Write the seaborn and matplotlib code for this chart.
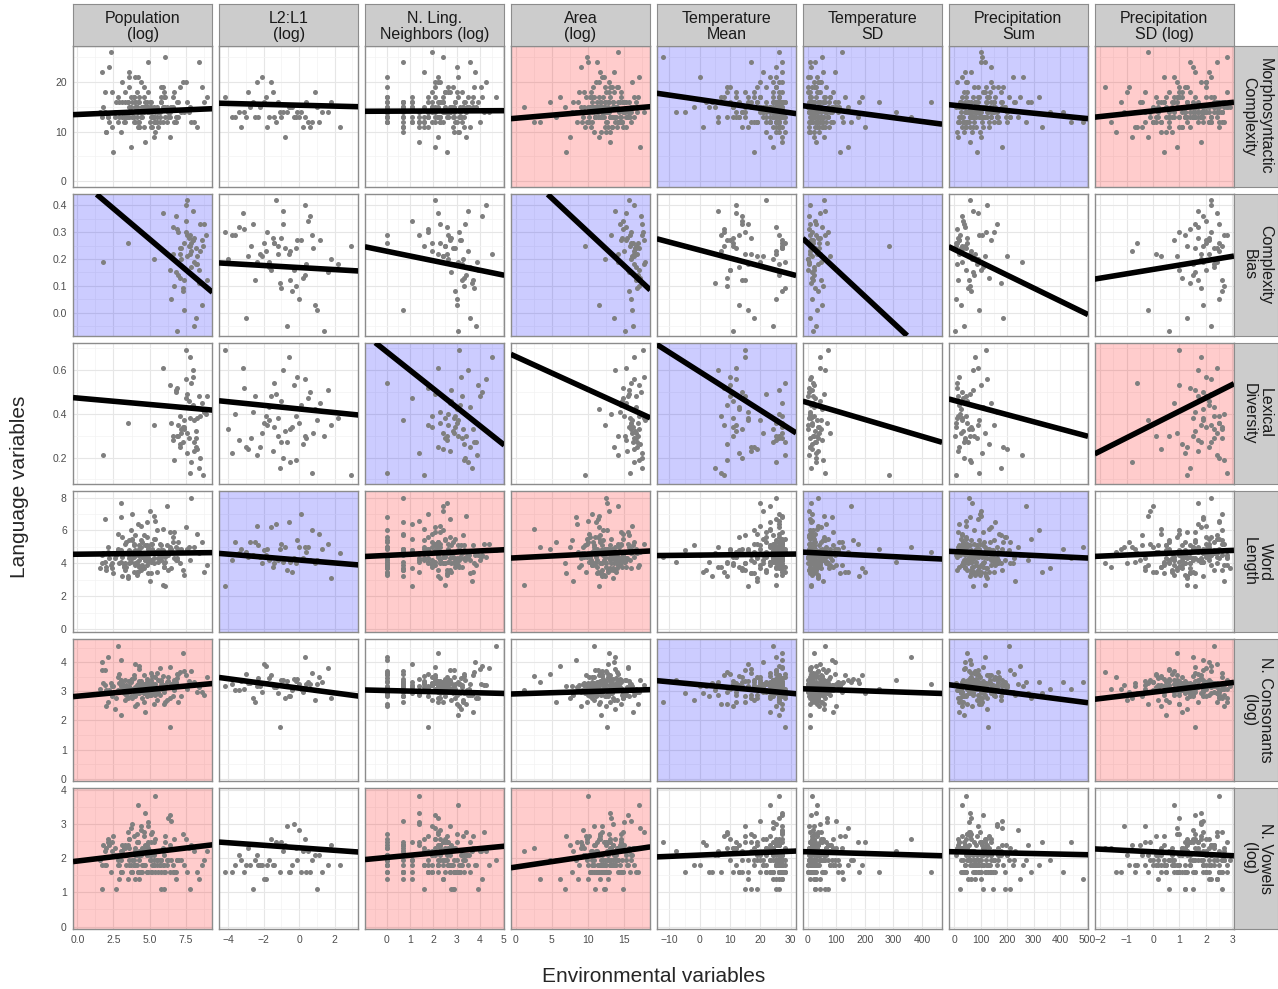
import numpy as np
import pandas as pd
import matplotlib
matplotlib.use("Agg")
import matplotlib.pyplot as plt
from matplotlib.patches import Rectangle
from matplotlib.ticker import AutoMinorLocator
import seaborn as sns

na = np.nan

# ---- languages with the large samples (morphosyntax, word length, consonants, vowels)
pop_d = [4.2, 5.1, 3.3, 6.0, 2.1, 4.8, 5.6, 3.9, 7.2, 4.4,
         1.7, 5.3, 6.4, 3.1, 4.6, 2.8, 5.9, 4.0, 6.8, 3.6,
         5.0, 4.3, 2.4, 6.2, 3.8, 7.6, 4.9, 5.5, 3.4, 4.1,
         6.6, 2.0, 5.2, 4.7, 3.0, 5.8, 8.1, 4.5, 3.7, 6.1,
         2.6, 5.4, 4.0, 7.0, 3.2, 4.8, 6.3, 1.9, 5.7, 4.2,
         3.5, 6.9, 4.6, 2.3, 5.1, 7.9, 3.9, 4.4, 6.5, 3.0,
         5.6, 8.6, 4.1, 2.7, 5.9, 3.6, 4.9, 7.3, 4.3, 5.3,
         1.8, 6.0, 3.8, 4.7, 5.0, 2.9, 6.7, 4.5, 3.3, 7.7,
         5.5, 4.0, 2.2, 6.2, 3.7, 5.2, 9.0, 4.6, 3.1, 5.8,
         6.4, 2.5, 4.8, 3.4, 7.1, 5.4, 4.2, 1.6, 6.1, 3.9,
         5.0, 8.3, 4.4, 2.8, 5.7, 3.5, 6.8, 4.1, 7.5, 3.0,
         5.3, 4.9, 2.0, 6.5, 3.8, 4.3, 8.8, 5.1, 3.6, 6.0,
         4.7, 3.2, 5.8, 2.2, 6.3, 4.0, 5.1, 3.6, 7.4, 4.5,
         2.9, 5.5, 4.2, 6.7, 3.4, 4.9, 1.7, 5.9, 4.3, 3.8,
         6.1, 4.6, 2.6, 5.3, 7.8, 3.9, 4.8, 5.6, 3.1, 6.4,
         4.1, 5.0, 2.4, 4.4, 6.9, 3.5, 5.2, 4.7, 8.4, 3.0,
         5.7, 4.3, 2.1, 6.0, 3.7, 4.9, 5.4, 3.3, 7.0, 4.6,
         2.8, 5.1, 4.0, 6.6, 3.6, 5.8, 4.2, 1.9, 5.3, 4.8]
l2_d = [-3.1, na, na, -1.5, na, na, 0.2, na, na, -2.4,
        na, na, -0.8, na, na, 1.1, na, na, -3.8, na,
        na, -1.9, na, na, -0.3, na, na, 0.7, na, na,
        -2.8, na, na, -1.2, na, na, 0.5, na, na, -4.2,
        na, na, -2.1, na, na, -0.6, na, na, 1.6, na,
        na, -1.7, na, na, -3.4, na, na, 0.0, na, na,
        -0.9, na, na, -2.6, na, na, 1.3, na, na, -1.4,
        na, na, -0.1, na, na, -3.0, na, na, 0.9, na,
        na, -2.0, na, na, -0.5, na, na, 2.3, na, na,
        -1.1, na, na, -3.6, na, na, 0.4, na, na, -2.3,
        na, na, -0.7, na, na, 1.8, na, na, -1.6, na,
        na, -2.9, na, na, 0.1, na, na, -1.0, na, na,
        -2.2, na, na, na, na, na, 0.6, na, na, na,
        na, na, -1.3, na, na, na, na, na, -3.3, na,
        na, na, na, na, 1.0, na, na, na, na, na,
        -0.4, na, na, na, na, na, -1.8, na, na, na,
        na, na, 0.3, na, na, na, na, na, -2.5, na,
        na, na, na, na, -0.2, na, na, na, na, na]
neigh_d = [12, 1, 8, 25, 2, 15, 6, 40, 1, 10,
           18, 3, 9, 2, 30, 7, 14, 1, 22, 5,
           11, 60, 2, 16, 4, 9, 35, 1, 13, 20,
           7, 2, 28, 10, 1, 17, 5, 45, 8, 3,
           24, 12, 1, 6, 19, 2, 9, 14, 80, 4,
           11, 1, 26, 7, 15, 2, 33, 10, 3, 21,
           8, 1, 13, 50, 5, 18, 2, 9, 27, 6,
           16, 1, 12, 4, 38, 2, 10, 23, 7, 1,
           14, 3, 20, 11, 2, 65, 8, 17, 1, 29,
           6, 13, 2, 9, 42, 4, 19, 1, 11, 24,
           7, 2, 15, 110, 5, 10, 1, 31, 8, 18,
           3, 12, 22, 2, 6, 55, 1, 14, 9, 16,
           9, 1, 21, 4, 13, 2, 36, 8, 1, 17,
           11, 26, 3, 15, 1, 7, 44, 12, 2, 19,
           6, 1, 14, 30, 5, 10, 2, 23, 70, 8,
           16, 3, 12, 1, 27, 9, 5, 40, 2, 13,
           20, 7, 1, 34, 11, 4, 18, 2, 9, 58,
           14, 1, 25, 6, 10, 3, 21, 15, 1, 8]
area_d = [12.1, 10.5, 14.2, 8.8, 13.0, 11.4, 15.3, 9.7, 12.8, 16.1,
          11.0, 13.6, 7.5, 12.4, 14.8, 10.2, 13.3, 9.1, 15.8, 11.7,
          12.9, 6.2, 14.0, 10.8, 13.5, 16.6, 11.2, 12.6, 9.4, 14.5,
          10.0, 13.1, 11.9, 15.0, 8.3, 12.3, 14.3, 10.6, 17.2, 11.5,
          13.8, 9.9, 12.0, 4.8, 14.7, 11.1, 13.2, 10.4, 15.5, 12.7,
          8.6, 13.9, 11.6, 14.1, 10.1, 12.5, 16.3, 9.3, 13.4, 11.8,
          15.1, 10.7, 12.2, 14.9, 2.5, 13.7, 11.3, 12.9, 9.6, 14.4,
          10.9, 16.9, 12.1, 13.0, 8.0, 11.9, 14.6, 10.3, 13.6, 15.6,
          11.4, 12.8, 9.0, 14.2, 12.4, 17.8, 10.5, 13.3, 11.0, 15.2,
          12.6, 7.0, 13.9, 11.7, 14.0, 10.0, 12.3, 16.0, 9.8, 13.1,
          11.2, 14.8, 12.0, 10.8, 15.4, 13.5, 3.4, 12.7, 11.5, 14.3,
          13.2, 9.5, 12.5, 15.9, 10.6, 13.8, 11.8, 14.5, 12.2, 6.8,
          13.4, 11.0, 14.6, 9.2, 12.7, 15.7, 10.4, 13.1, 12.0, 16.4,
          11.6, 14.0, 8.5, 12.9, 15.2, 10.9, 13.6, 1.2, 12.4, 14.9,
          10.2, 13.0, 16.8, 11.5, 12.2, 9.8, 14.4, 12.8, 11.1, 15.5,
          13.9, 10.6, 12.5, 7.8, 14.2, 11.9, 13.3, 16.2, 10.0, 12.6,
          14.7, 11.3, 13.7, 9.5, 12.1, 15.0, 10.8, 13.5, 5.6, 14.1,
          12.3, 11.7, 15.9, 10.3, 13.2, 12.9, 17.0, 11.4, 14.5, 12.0]
tmean_d = [24, 26, 18, 27, 12, 22, 25, 8, 27, 20,
           15, 26, 23, 4, 27, 19, 25, 11, 24, 27,
           21, 26, 14, -2, 25, 27, 17, 23, 26, 9,
           27, 22, 13, 25, 27, 19, 6, 26, 24, 16,
           27, 21, 25, 10, 28, 23, 26, 18, 27, 1,
           24, 27, 15, 26, 22, 25, 12, 27, 20, 26,
           -8, 25, 27, 17, 23, 26, 14, 27, 24, 21,
           26, 7, 25, 27, 19, 28, 22, 11, 26, 24,
           27, 16, 25, 23, 3, 27, 20, 26, 13, 25,
           28, 18, 24, 27, 9, 26, 22, 25, -12, 27,
           21, 26, 15, 24, 27, 19, 25, 5, 26, 23,
           27, 12, 25, 20, 26, 17, 28, 24, 0, 26,
           25, 27, 20, 26, 14, 24, 27, 10, 25, 22,
           27, 18, 26, 24, 6, 27, 21, 25, 16, 28,
           23, 26, 12, 27, 25, 19, 26, -5, 24, 27,
           22, 26, 15, 27, 25, 9, 26, 23, 27, 20,
           26, 13, 25, 27, 18, 24, 28, 2, 26, 22,
           27, 17, 25, 26, 11, 27, 23, 25, 19, 26]
tsd_d = [15, 40, 8, 90, 25, 5, 60, 130, 12, 35,
         70, 3, 22, 180, 48, 10, 30, 100, 18, 55,
         6, 28, 75, 14, 42, 250, 9, 20, 65, 33,
         110, 4, 50, 16, 85, 26, 7, 38, 140, 11,
         58, 21, 2, 95, 30, 13, 68, 44, 8, 200,
         24, 52, 17, 120, 6, 36, 80, 19, 46, 10,
         310, 27, 14, 62, 34, 5, 105, 23, 40, 15,
         72, 9, 160, 29, 54, 12, 88, 3, 37, 66,
         20, 45, 11, 150, 26, 7, 78, 32, 18, 57,
         8, 115, 41, 22, 64, 14, 430, 30, 50, 10,
         86, 25, 4, 60, 19, 35, 125, 13, 48, 28,
         70, 6, 39, 98, 16, 53, 23, 175, 9, 42,
         18, 45, 7, 82, 28, 4, 55, 14, 36, 120,
         10, 26, 66, 3, 40, 22, 95, 12, 50, 8,
         33, 190, 16, 58, 25, 6, 74, 20, 44, 11,
         140, 30, 9, 62, 17, 38, 5, 90, 27, 13,
         52, 21, 360, 35, 8, 68, 24, 15, 46, 2,
         80, 29, 12, 56, 19, 106, 34, 7, 42, 23]
psum_d = [80, 150, 35, 110, 20, 190, 60, 130, 95, 45,
          210, 70, 15, 120, 55, 170, 90, 30, 140, 65,
          100, 250, 40, 85, 160, 25, 115, 75, 200, 50,
          135, 10, 95, 280, 60, 145, 35, 105, 180, 70,
          125, 45, 220, 88, 18, 155, 65, 112, 40, 330,
          78, 165, 28, 102, 140, 55, 90, 240, 120, 38,
          68, 185, 98, 22, 130, 75, 410, 50, 108, 160,
          42, 92, 150, 60, 230, 82, 14, 118, 175, 48,
          100, 62, 138, 270, 34, 96, 155, 72, 195, 52,
          128, 86, 8, 112, 165, 44, 80, 360, 104, 58,
          145, 30, 90, 205, 70, 125, 485, 54, 140, 84,
          26, 115, 66, 180, 98, 38, 150, 76, 260, 110,
          88, 140, 30, 105, 62, 175, 45, 120, 78, 210,
          52, 96, 18, 135, 70, 160, 40, 115, 84, 290,
          60, 125, 24, 100, 190, 48, 82, 145, 12, 110,
          74, 165, 36, 92, 225, 58, 130, 20, 102, 68,
          150, 42, 118, 86, 320, 54, 98, 180, 32, 76,
          124, 64, 200, 46, 108, 140, 28, 90, 440, 56]
psd_d = [1.2, 0.4, 2.1, -0.3, 1.7, 0.9, 2.5, 0.1, 1.5, 2.0,
         0.6, 1.9, -0.8, 1.3, 2.4, 0.3, 1.0, 2.7, 0.8, 1.6,
         -0.1, 2.2, 1.1, 0.5, 1.8, -1.2, 1.4, 2.6, 0.2, 1.0,
         2.3, 0.7, 1.5, -0.5, 1.9, 1.2, 0.0, 2.8, 0.9, 1.6,
         1.3, 2.1, 0.4, 1.7, -1.6, 2.5, 1.0, 0.6, 2.0, 1.4,
         0.2, 1.8, 2.4, -0.2, 1.1, 2.2, 0.8, 1.5, 2.9, 0.5,
         1.9, -0.9, 1.2, 2.6, 0.3, 1.6, 2.0, 0.9, -0.4, 1.4,
         2.3, 1.0, 0.6, 1.8, 2.7, 0.1, 1.3, 2.1, -1.0, 1.7,
         0.7, 2.4, 1.5, 0.0, 1.9, 2.6, 1.1, -0.6, 2.2, 0.8,
         1.6, 0.4, 2.0, 1.2, -1.8, 2.5, 0.9, 1.4, 2.8, 0.2,
         1.7, 1.0, -0.3, 2.3, 0.5, 1.3, 2.1, 0.7, 1.8, -0.7,
         2.4, 1.1, 0.3, 1.9, 2.6, 0.6, 1.5, -0.1, 2.2, 1.2,
         1.4, 2.2, 0.5, 1.9, 2.6, -0.4, 1.1, 2.0, 0.8, 1.6,
         2.4, 0.2, 1.7, 2.8, 1.0, -1.1, 2.1, 1.3, 0.6, 2.5,
         1.8, 0.9, 2.3, -0.2, 1.5, 2.7, 0.4, 1.2, 2.0, 1.6,
         0.0, 2.2, 1.4, 2.6, 0.7, 1.9, -0.7, 1.1, 2.4, 1.7,
         2.1, 0.3, 1.5, 2.8, 1.0, 1.8, -1.4, 2.3, 0.6, 1.3,
         2.5, 1.6, 0.1, 2.0, 1.2, 2.7, 0.8, 1.9, -0.3, 1.4]
morph_d = [14, 16, 12, 18, 13, 15, 11, 17, 14, 20,
           13, 15, 9, 16, 14, 12, 19, 15, 13, 22,
           14, 17, 11, 15, 13, 16, 24, 12, 14, 18,
           15, 10, 13, 16, 14, 19, 12, 15, 7, 17,
           13, 14, 21, 16, 12, 15, 13, 18, 14, 11,
           16, 13, 15, 26, 14, 12, 17, 13, 15, 10,
           14, 19, 13, 16, 12, 15, 14, 20, 11, 13,
           15, 17, 14, 8, 16, 13, 12, 15, 18, 14,
           13, 16, 23, 12, 15, 14, 17, 11, 13, 16,
           14, 6, 15, 13, 19, 12, 16, 14, 25, 13,
           15, 11, 14, 17, 13, 16, 12, 15, 20, 14,
           13, 18, 10, 15, 14, 12, 16, 13, 21, 15,
           15, 13, 17, 12, 14, 16, 11, 19, 14, 13,
           16, 15, 12, 18, 13, 14, 22, 15, 11, 16,
           13, 17, 14, 9, 15, 12, 16, 14, 20, 13,
           15, 12, 18, 14, 16, 13, 11, 15, 24, 14,
           12, 16, 13, 15, 17, 14, 10, 16, 13, 19,
           14, 15, 12, 17, 13, 16, 21, 14, 12, 15]
wordlen_d = [4.5, 4.1, 5.2, 3.8, 4.7, 5.6, 4.3, 3.5, 4.9, 6.3,
             4.0, 4.6, 5.0, 3.2, 4.4, 5.8, 4.8, 3.9, 4.2, 5.4,
             7.2, 4.5, 3.7, 5.1, 4.3, 4.9, 3.4, 6.0, 4.6, 4.1,
             5.3, 3.6, 4.8, 4.2, 6.8, 4.4, 5.0, 3.9, 4.7, 2.6,
             4.3, 5.5, 4.0, 4.9, 3.8, 6.5, 4.5, 4.1, 5.2, 3.5,
             4.7, 4.2, 5.7, 3.9, 4.6, 8.0, 4.4, 5.0, 3.7, 4.8,
             4.1, 5.3, 3.3, 4.5, 6.1, 4.3, 4.9, 3.6, 5.1, 4.0,
             4.6, 3.8, 5.4, 4.2, 2.9, 4.7, 5.9, 4.4, 4.0, 5.0,
             3.5, 4.8, 4.3, 7.5, 4.1, 5.2, 3.9, 4.6, 5.6, 4.2,
             4.9, 3.4, 4.5, 5.3, 4.0, 6.6, 4.7, 3.7, 4.4, 5.1,
             4.2, 5.8, 3.6, 4.8, 4.3, 3.1, 5.0, 4.6, 6.2, 4.1,
             5.5, 4.4, 3.8, 4.9, 7.0, 4.2, 3.5, 5.2, 4.5, 4.0,
             4.4, 3.9, 5.1, 4.6, 3.6, 5.7, 4.2, 4.8, 3.3, 5.3,
             4.0, 4.7, 6.4, 4.3, 3.8, 5.0, 4.5, 2.7, 4.9, 5.5,
             4.1, 3.7, 4.6, 6.9, 4.2, 5.2, 3.9, 4.8, 4.4, 5.9,
             3.5, 4.7, 4.0, 5.4, 4.3, 3.2, 4.9, 5.1, 4.6, 7.7,
             4.2, 3.8, 5.0, 4.5, 6.0, 4.1, 4.7, 3.6, 5.3, 4.4,
             4.9, 3.4, 4.6, 5.6, 4.0, 4.8, 3.9, 6.7, 4.3, 5.1]
consonants_d = [22, 18, 30, 25, 14, 28, 20, 35, 17, 24,
                42, 21, 16, 27, 19, 33, 23, 12, 26, 29,
                20, 48, 24, 15, 31, 22, 18, 38, 25, 13,
                27, 21, 34, 19, 60, 23, 28, 16, 30, 24,
                11, 26, 20, 36, 22, 17, 29, 25, 45, 19,
                23, 32, 14, 27, 21, 40, 18, 26, 24, 9,
                30, 20, 25, 16, 34, 22, 28, 75, 19, 23,
                27, 13, 31, 24, 18, 37, 21, 26, 15, 29,
                22, 52, 20, 28, 17, 25, 33, 19, 23, 30,
                6, 24, 27, 21, 39, 18, 26, 22, 14, 32,
                25, 20, 29, 95, 23, 16, 28, 21, 35, 24,
                19, 27, 12, 26, 22, 44, 18, 30, 24, 20,
                24, 19, 28, 21, 33, 17, 26, 22, 40, 20,
                27, 15, 23, 30, 18, 25, 55, 21, 29, 16,
                24, 35, 20, 13, 26, 22, 31, 19, 25, 47,
                21, 28, 17, 24, 36, 20, 27, 10, 23, 30,
                18, 25, 65, 22, 28, 19, 33, 24, 14, 26,
                21, 38, 23, 17, 29, 25, 20, 42, 22, 27]
vowels_d = [5, 7, 10, 6, 12, 5, 9, 14, 7, 8,
            3, 6, 11, 5, 16, 8, 6, 10, 5, 13,
            7, 4, 9, 6, 20, 5, 12, 7, 8, 15,
            6, 10, 5, 11, 7, 3, 9, 6, 18, 5,
            8, 13, 6, 7, 10, 5, 24, 9, 6, 12,
            4, 7, 14, 5, 8, 11, 6, 17, 7, 5,
            9, 6, 12, 3, 10, 7, 5, 15, 8, 6,
            11, 5, 7, 28, 9, 6, 13, 5, 8, 10,
            6, 4, 12, 7, 5, 16, 9, 6, 11, 7,
            5, 14, 8, 6, 10, 45, 5, 7, 12, 6,
            9, 5, 19, 7, 6, 11, 4, 8, 13, 5,
            7, 10, 6, 22, 5, 9, 7, 12, 6, 3,
            6, 8, 5, 11, 7, 9, 5, 13, 6, 10,
            4, 7, 12, 5, 8, 19, 6, 9, 7, 5,
            14, 6, 10, 8, 3, 7, 11, 5, 9, 26,
            6, 8, 12, 5, 7, 16, 6, 10, 4, 9,
            7, 5, 13, 8, 6, 21, 5, 11, 7, 9,
            6, 15, 8, 5, 10, 7, 35, 6, 12, 8]

# ---- languages with complexity bias / lexical diversity measures
pop_s = [7.8, 8.2, 6.9, 7.4, 8.6, 7.1, 8.0, 6.5, 7.6, 8.4,
         7.2, 8.8, 6.7, 7.9, 5.3, 8.1, 7.5, 8.5, 7.0, 7.7,
         8.3, 6.8, 7.3, 8.7, 7.9, 6.6, 8.0, 7.4, 1.8, 8.2,
         7.6, 7.1, 8.9, 7.8, 6.9, 3.5, 8.4, 7.5, 7.2, 8.1,
         6.4, 7.7, 8.6, 7.0, 7.9, 8.3, 5.9, 7.3, 8.0, 7.6,
         8.5, 6.8, 7.4, 8.2, 7.1, 7.8, 9.0, 6.6, 7.5, 8.1]
l2_s = [-1.2, 0.4, -3.1, -0.5, 1.2, -2.2, -0.9, 0.0, -3.8, -1.6,
        0.8, -2.6, -0.2, -1.4, 1.8, -0.7, -4.2, -1.9, 0.3, -1.0,
        -2.9, 0.6, -0.4, 2.9, -1.7, -3.4, -0.1, 1.0, -2.4, -0.8,
        -1.3, 0.2, -3.6, -0.6, 1.4, -2.0, -1.1, 0.5, -4.0, -1.5,
        -0.3, -2.7, 0.9, -1.8, -0.5, 2.2, -3.2, -1.0, 0.1, -2.1,
        -0.9, 1.6, -1.4, -3.0, -0.2, 0.7, -2.5, -1.2, 0.3, -1.7]
neigh_s = [12, 25, 6, 40, 15, 9, 33, 20, 4, 55,
           18, 10, 28, 1, 14, 45, 22, 7, 30, 16,
           11, 60, 19, 5, 36, 13, 24, 2, 48, 17,
           8, 27, 14, 90, 21, 10, 38, 3, 26, 15,
           50, 12, 20, 6, 32, 18, 9, 42, 23, 11,
           29, 16, 7, 35, 19, 1, 25, 13, 70, 21]
area_s = [15.8, 16.4, 14.9, 17.1, 15.2, 16.8, 13.8, 16.0, 17.4, 15.5,
          16.6, 14.4, 17.0, 15.9, 12.3, 16.2, 17.6, 15.0, 16.9, 14.7,
          16.3, 17.3, 15.6, 9.6, 16.7, 15.3, 17.8, 16.1, 14.2, 16.5,
          15.7, 17.2, 13.2, 16.4, 15.1, 16.9, 17.5, 14.8, 16.0, 15.4,
          17.0, 16.6, 11.5, 15.9, 16.3, 17.7, 15.2, 16.8, 14.5, 16.1,
          17.4, 15.6, 16.2, 13.6, 17.1, 15.8, 16.7, 14.1, 16.4, 17.9]
tmean_s = [11, 26, 8, 14, 27, 17, 6, 25, 13, 10,
           27, 16, 9, 28, 12, 24, 15, 7, 26, 11,
           19, 14, 27, 8, 13, 25, 10, 16, 28, 12,
           22, 9, 26, 15, 11, 27, 5, 14, 24, 17,
           10, 27, 13, 8, 25, 16, 12, 28, 9, 21,
           14, 26, 11, 18, 27, 7, 15, 25, 12, 20]
tsd_s = [12, 35, 5, 48, 20, 8, 62, 15, 28, 3,
         40, 10, 55, 18, 2, 30, 72, 9, 24, 45,
         14, 6, 38, 285, 22, 50, 11, 33, 4, 26,
         58, 16, 7, 42, 19, 68, 13, 27, 1, 36,
         21, 9, 52, 17, 31, 5, 44, 25, 12, 78,
         29, 14, 39, 8, 23, 60, 18, 34, 10, 47]
psum_s = [30, 85, 12, 55, 140, 20, 70, 5, 105, 45,
          25, 160, 60, 10, 90, 38, 120, 15, 75, 50,
          200, 28, 65, 8, 110, 42, 18, 95, 256, 35,
          58, 130, 22, 80, 3, 48, 175, 32, 68, 14,
          100, 40, 26, 150, 62, 11, 88, 52, 20, 115,
          36, 72, 6, 185, 44, 92, 16, 60, 125, 30]
psd_s = [1.9, 2.3, 1.4, 2.6, 0.8, 2.1, 1.7, 2.5, 1.2, 2.0,
         2.4, 1.6, 2.7, -0.6, 1.8, 2.2, 1.0, 2.5, 1.5, 2.1,
         0.3, 1.9, 2.6, 1.3, 2.3, 1.7, 2.0, -0.2, 2.4, 1.6,
         2.2, 1.1, 2.7, 1.8, 0.6, 2.5, 1.4, 2.0, 2.3, 1.7,
         1.0, 2.6, 1.9, 2.2, -0.8, 1.5, 2.4, 1.8, 2.1, 0.9,
         2.5, 1.6, 2.0, 1.3, 2.3, 2.8, 1.7, 0.1, 2.2, 1.9]
bias_s = [0.25, 0.18, 0.31, 0.12, 0.27, 0.22, 0.38, 0.05, 0.29, 0.16,
          0.24, 0.33, 0.10, 0.26, 0.20, -0.05, 0.30, 0.23, 0.14, 0.28,
          0.21, 0.36, 0.08, 0.25, 0.17, 0.32, 0.27, 0.01, 0.19, 0.24,
          0.42, 0.13, 0.29, 0.22, -0.07, 0.26, 0.11, 0.34, 0.20, 0.28,
          0.16, 0.25, 0.03, 0.30, 0.23, 0.18, 0.37, 0.09, 0.27, 0.21,
          0.33, 0.15, 0.26, -0.02, 0.24, 0.29, 0.12, 0.22, 0.40, 0.19]
lexdiv_s = [0.38, 0.29, 0.52, 0.33, 0.45, 0.25, 0.60, 0.36, 0.22, 0.48,
            0.31, 0.41, 0.19, 0.54, 0.35, 0.27, 0.69, 0.39, 0.30, 0.46,
            0.24, 0.50, 0.34, 0.12, 0.43, 0.28, 0.57, 0.37, 0.21, 0.32,
            0.49, 0.26, 0.40, 0.66, 0.30, 0.36, 0.15, 0.47, 0.33, 0.23,
            0.53, 0.29, 0.42, 0.35, 0.18, 0.38, 0.61, 0.27, 0.44, 0.31,
            0.20, 0.51, 0.34, 0.25, 0.39, 0.13, 0.48, 0.30, 0.56, 0.37]

# ---- model fits: slope / intercept per panel (rows = language variables)
slopes = [
    [0.124, -0.089, 0.02, 0.125, -0.089, -0.0076, -0.00532, 0.569],
    [-0.0456, -0.0038, -0.0178, -0.0252, -0.00298, -0.000995, -0.000482, 0.0163],
    [-0.0059, -0.00826, -0.0848, -0.0151, -0.0088, -0.000386, -0.000325, 0.0609],
    [0.0104, -0.089, 0.0687, 0.0223, 0.002, -0.00086, -0.00078, 0.070],
    [0.0466, -0.0813, -0.02, 0.0078, -0.0098, -0.00033, -0.00118, 0.110],
    [0.0508, -0.0369, 0.0653, 0.0317, 0.0037, -0.000246, -0.00017, -0.038],
]
intercepts = [
    [13.44, 15.3, 14.1, 12.68, 16.44, 15.07, 15.29, 14.16],
    [0.502, 0.168, 0.229, 0.553, 0.233, 0.260, 0.236, 0.161],
    [0.472, 0.422, 0.684, 0.662, 0.592, 0.451, 0.461, 0.351],
    [4.553, 4.2, 4.48, 4.335, 4.50, 4.665, 4.714, 4.575],
    [2.834, 3.11, 3.03, 2.915, 3.23, 3.084, 3.205, 2.973],
    [1.915, 2.303, 2.02, 1.74, 2.09, 2.186, 2.186, 2.186],
]
# significant effect: 1 positive, -1 negative, 0 none
signif = [
    [0, 0, 0, 1, -1, -1, -1, 1],
    [-1, 0, 0, -1, 0, -1, 0, 0],
    [0, 0, -1, 0, -1, 0, 0, 1],
    [0, -1, 1, 1, 0, -1, -1, 0],
    [1, 0, 0, 0, -1, 0, -1, 1],
    [1, 0, 1, 1, 0, 0, 0, 0],
]

col_labels = ["Population\n(log)", "L2:L1\n(log)", "N. Ling.\nNeighbors (log)", "Area\n(log)",
              "Temperature\nMean", "Temperature\nSD", "Precipitation\nSum", "Precipitation\nSD (log)"]
row_labels = ["Morphosyntactic\nComplexity", "Complexity\nBias", "Lexical\nDiversity",
              "Word\nLength", "N. Consonants\n(log)", "N. Vowels\n(log)"]

x_ticks = [[0, 2.5, 5, 7.5], [-4, -2, 0, 2], [0, 1, 2, 3, 4, 5], [0, 5, 10, 15],
           [-10, 0, 10, 20, 30], [0, 100, 200, 300, 400], [0, 100, 200, 300, 400, 500],
           [-2, -1, 0, 1, 2, 3]]
x_ticklabels = [["0.0", "2.5", "5.0", "7.5"], ["\u22124", "\u22122", "0", "2"],
                ["0", "1", "2", "3", "4", "5"], ["0", "5", "10", "15"],
                ["\u221210", "0", "10", "20", "30"], ["0", "100", "200", "300", "400"],
                ["0", "100", "200", "300", "400", "500"],
                ["\u22122", "\u22121", "0", "1", "2", "3"]]
x_lims = [(-0.3, 9.35), (-4.53, 3.34), (-0.93, 5.04), (-0.65, 18.6),
          (-14.2, 31.8), (-17, 470), (-21, 505), (-2.21, 3.06)]
y_ticks = [[0, 10, 20], [0.0, 0.1, 0.2, 0.3, 0.4], [0.2, 0.4, 0.6],
           [0, 2, 4, 6, 8], [0, 1, 2, 3, 4], [0, 1, 2, 3, 4]]
y_ticklabels = [["0", "10", "20"], ["0.0", "0.1", "0.2", "0.3", "0.4"], ["0.2", "0.4", "0.6"],
                ["0", "2", "4", "6", "8"], ["0", "1", "2", "3", "4"], ["0", "1", "2", "3", "4"]]
y_lims = [(-1.2, 27.2), (-0.086, 0.441), (0.079, 0.725), (-0.2, 8.4), (-0.07, 4.79), (-0.07, 4.06)]

# Build tables
dense = pd.DataFrame({"pop": pop_d, "l2": l2_d, "neigh": np.log(neigh_d), "area": area_d,
                      "tmean": tmean_d, "tsd": tsd_d, "psum": psum_d, "psd": psd_d,
                      "morph": morph_d, "wordlen": wordlen_d,
                      "consonants": np.log(consonants_d), "vowels": np.log(vowels_d)})
sparse = pd.DataFrame({"pop": pop_s, "l2": l2_s, "neigh": np.log(neigh_s), "area": area_s,
                       "tmean": tmean_s, "tsd": tsd_s, "psum": psum_s, "psd": psd_s,
                       "bias": bias_s, "lexdiv": lexdiv_s})
env_cols = ["pop", "l2", "neigh", "area", "tmean", "tsd", "psum", "psd"]
lang_rows = [("morph", dense), ("bias", sparse), ("lexdiv", sparse),
             ("wordlen", dense), ("consonants", dense), ("vowels", dense)]

sns.set_style("white")
plt.rcParams['font.family'] = ['Liberation Sans', 'DejaVu Sans']

W, H = 1278, 989
fig, axes = plt.subplots(6, 8, figsize=(W / 100, H / 100), dpi=100, sharex='col', sharey='row')
fig.subplots_adjust(left=73 / W, right=1234 / W, top=1 - 46 / H, bottom=1 - 929 / H,
                    wspace=0.0466, hspace=0.0495)

bg_colors = {1: 'red', -1: 'blue'}
for i, (ycol, df) in enumerate(lang_rows):
    for j, xcol in enumerate(env_cols):
        ax = axes[i, j]
        ax.set_facecolor('white')
        ax.set_axisbelow(True)
        ax.xaxis.set_minor_locator(AutoMinorLocator(2))
        ax.yaxis.set_minor_locator(AutoMinorLocator(2))
        ax.grid(which='major', color='#E6E6E6', lw=0.8)
        ax.grid(which='minor', color='#F3F3F3', lw=0.5)
        if signif[i][j] != 0:
            ax.add_patch(Rectangle((0, 0), 1, 1, transform=ax.transAxes,
                                   facecolor=bg_colors[signif[i][j]], alpha=0.2,
                                   lw=0, zorder=0.8))
        sns.scatterplot(data=df, x=xcol, y=ycol, ax=ax, color='#7F7F7F', s=13,
                        linewidth=0, legend=False, zorder=2)
        ax.axline((0, intercepts[i][j]), slope=slopes[i][j], color='black', lw=4,
                  zorder=3, solid_capstyle='butt')
        ax.set_xlabel('')
        ax.set_ylabel('')
        for sp in ax.spines.values():
            sp.set_color('#8C8C8C')
            sp.set_linewidth(1.0)
        ax.tick_params(which='minor', length=0)
        ax.tick_params(which='major', length=3, width=0.8, color='#333333',
                       labelsize=7.5, labelcolor='#4D4D4D', pad=1.5)
        if j > 0:
            ax.tick_params(axis='y', which='major', length=0)
        if i < 5:
            ax.tick_params(axis='x', which='major', length=0)

for j in range(8):
    ax = axes[5, j]
    ax.set_xticks(x_ticks[j])
    ax.set_xticklabels(x_ticklabels[j])
    ax.set_xlim(*x_lims[j])
for i in range(6):
    ax = axes[i, 0]
    ax.set_yticks(y_ticks[i])
    ax.set_yticklabels(y_ticklabels[i])
    ax.set_ylim(*y_lims[i])

# strips on top and right
for j in range(8):
    pos = axes[0, j].get_position()
    sax = fig.add_axes([pos.x0, pos.y1, pos.width, 42 / H])
    sax.set_facecolor('#CCCCCC')
    sax.set_xticks([])
    sax.set_yticks([])
    for sp in sax.spines.values():
        sp.set_color('#8C8C8C')
    sax.text(0.5, 0.47, col_labels[j], ha='center', va='center', fontsize=11.5,
             linespacing=1.1, color='#1A1A1A', transform=sax.transAxes)
for i in range(6):
    pos = axes[i, 7].get_position()
    sax = fig.add_axes([pos.x1, pos.y0, 44 / W, pos.height])
    sax.set_facecolor('#CCCCCC')
    sax.set_xticks([])
    sax.set_yticks([])
    for sp in sax.spines.values():
        sp.set_color('#8C8C8C')
    sax.text(0.53, 0.5, row_labels[i], ha='center', va='center', fontsize=11.5,
             linespacing=1.1, rotation=270, color='#1A1A1A', transform=sax.transAxes)

fig.text(654 / W, 1 - 977 / H, "Environmental variables", ha='center', va='center', fontsize=15)
fig.text(20 / W, 1 - 487 / H, "Language variables", ha='center', va='center',
         rotation=90, fontsize=15)

fig.savefig("out.png", dpi=100)
